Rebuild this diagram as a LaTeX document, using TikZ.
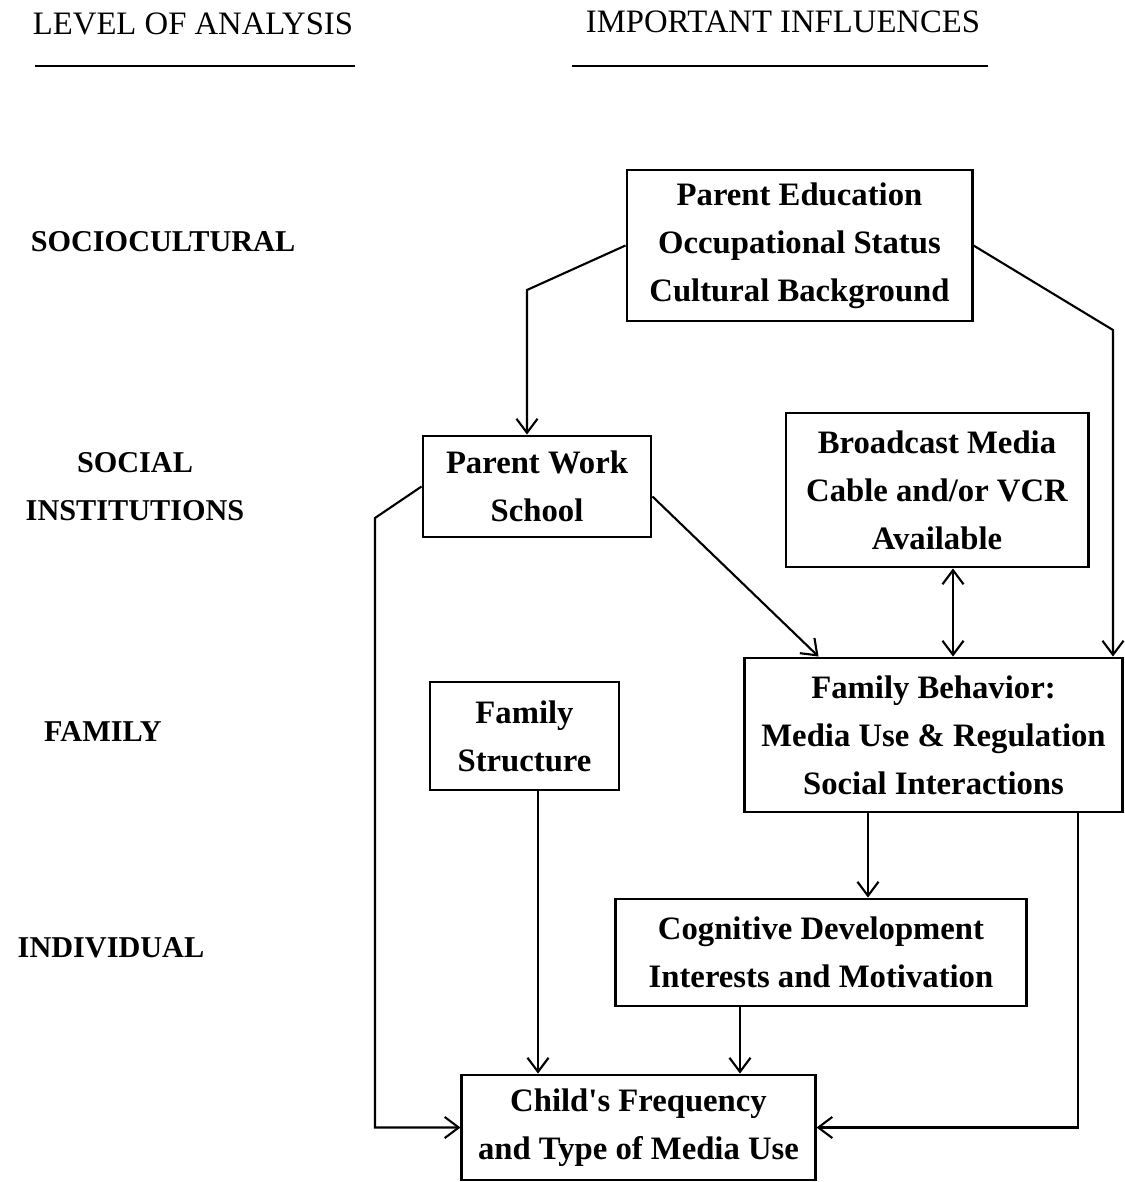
\documentclass[tikz,border=0pt]{standalone}
\usepackage{fontspec}
\setmainfont{Liberation Serif}
\usetikzlibrary{arrows.meta, positioning}

\begin{document}
\begin{tikzpicture}[x=0.01cm,y=-0.01cm,>={Straight Barb[length=4pt,width=6pt]},
        infl/.style={draw,thick,align=center,inner sep=0pt,font=\bfseries\fontsize{9.3}{13.7}\selectfont},
        level/.style={align=center,font=\bfseries\fontsize{8.6}{13.7}\selectfont},
        head/.style={font=\fontsize{9.3}{11}\selectfont},
        link/.style={semithick}]

        \useasboundingbox (0,0) rectangle (1124,1182);

        % headings
        \node[head] (hlevel) at (193,24) {LEVEL OF ANALYSIS};
        \node[head] (hinfl) at (783,22) {IMPORTANT INFLUENCES};
        \draw[thick] (35,66) -- (355,66);
        \draw[thick] (572,66) -- (988,66);

        % levels
        \node[level] (lsoc) at (163,242) {SOCIOCULTURAL};
        \node[level] (linst) at (135,487) {SOCIAL\\INSTITUTIONS};
        \node[level] (lfam) at (103,732) {FAMILY};
        \node[level] (lind) at (111,948) {INDIVIDUAL};

        % influences
        \node[infl,minimum width=3.45cm,minimum height=1.51cm] (soc) at (799.5,245.5)
            {Parent Education\\Occupational Status\\Cultural Background};
        \node[infl,minimum width=2.28cm,minimum height=1.01cm] (work) at (537,486.5)
            {Parent Work\\School};
        \node[infl,minimum width=3.02cm,minimum height=1.54cm] (media) at (937,490)
            {Broadcast Media\\Cable and/or VCR\\Available};
        \node[infl,minimum width=3.77cm,minimum height=1.54cm] (behav) at (933.5,735)
            {Family Behavior:\\Media Use \& Regulation\\Social Interactions};
        \node[infl,minimum width=1.89cm,minimum height=1.08cm] (struct) at (524.5,736)
            {Family\\Structure};
        \node[infl,minimum width=4.10cm,minimum height=1.07cm] (cogn) at (821,952.5)
            {Cognitive Development\\Interests and Motivation};
        \node[infl,minimum width=3.53cm,minimum height=1.05cm] (child) at (638.5,1127.5)
            {Child\textquotesingle s Frequency\\and Type of Media Use};

        % bends
        \coordinate (b1) at (527,290);
        \coordinate (b2) at (1113,330);
        \coordinate (b3) at (375,518);

        \draw[link,->] (soc.west) -- (b1) -- (b1 |- work.north);
        \draw[link,->] (soc.east) -- (b2) -- (b2 |- behav.north);
        \draw[link,->] (work.west) -- (b3) -- (b3 |- child.west) -- (child.west);
        \draw[link,->] ([yshift=-0.1cm]work.east) -- ([xshift=0.75cm]behav.north west);
        \draw[link,<->] ([xshift=0.16cm]media.south) -- ([xshift=0.16cm]media.south |- behav.north);
        \draw[link,->] ([xshift=-0.655cm]behav.south) -- ([xshift=-0.655cm]behav.south |- cogn.north);
        \draw[link,->] ([xshift=1.445cm]behav.south) |- (child.east);
        \draw[link,->] ([xshift=0.135cm]struct.south) -- ([xshift=0.135cm]struct.south |- child.north);
        \draw[link,->] ([xshift=-0.81cm]cogn.south) -- ([xshift=-0.81cm]cogn.south |- child.north);
    \end{tikzpicture}
\end{document}
